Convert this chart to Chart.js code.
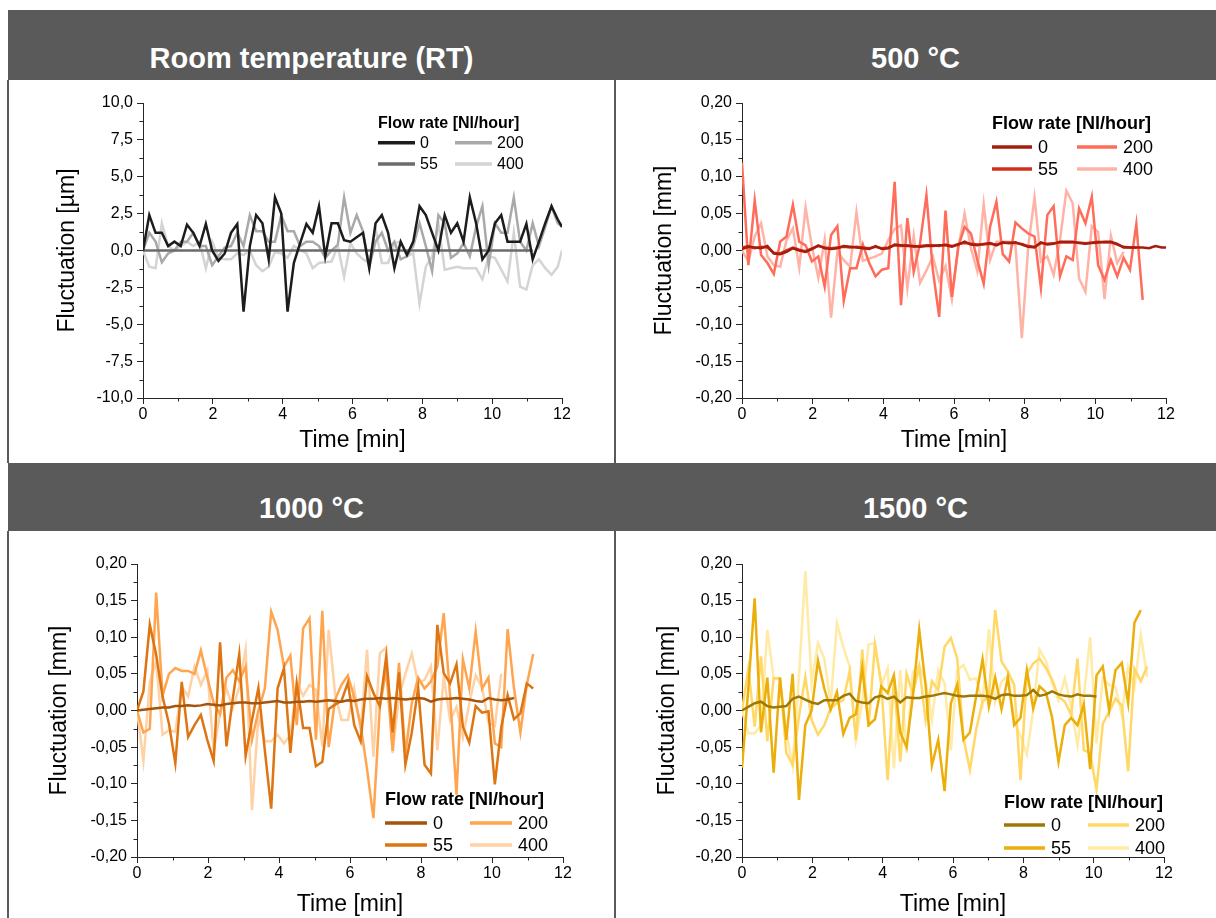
<!DOCTYPE html>
<html><head><meta charset="utf-8">
<script src="https://cdn.jsdelivr.net/npm/chart.js@4.4.1/dist/chart.umd.min.js"></script>
<style>
html,body{margin:0;padding:0;background:#fff;}
body{width:1216px;height:918px;position:relative;overflow:hidden;font-family:"Liberation Sans",Arial,sans-serif;}
.hdr{position:absolute;background:#5a5a5a;}
.ttl{position:absolute;color:#fff;font-weight:bold;font-size:29px;line-height:32px;text-align:center;white-space:nowrap;}
.vline{position:absolute;background:#5a5a5a;width:2px;}
canvas{position:absolute;}
</style></head><body>
<div class="hdr" style="left:8px;top:10px;width:1208px;height:70px"></div>
<div class="hdr" style="left:8px;top:463px;width:1208px;height:68px"></div>
<div class="ttl" style="left:8px;width:607px;top:42px">Room temperature (RT)</div>
<div class="ttl" style="left:615px;width:601px;top:42px">500 °C</div>
<div class="ttl" style="left:8px;width:607px;top:492px">1000 °C</div>
<div class="ttl" style="left:615px;width:601px;top:492px">1500 °C</div>
<div class="vline" style="left:7px;top:80px;height:383px"></div>
<div class="vline" style="left:614px;top:80px;height:383px"></div>
<div class="vline" style="left:7px;top:531px;height:387px"></div>
<div class="vline" style="left:614px;top:531px;height:387px"></div>
<canvas id="cRT" width="604" height="383" style="left:10px;top:80px"></canvas>
<canvas id="c500" width="599" height="383" style="left:617px;top:80px"></canvas>
<canvas id="c1000" width="604" height="387" style="left:10px;top:531px"></canvas>
<canvas id="c1500" width="599" height="387" style="left:617px;top:531px"></canvas>
<script>
// ---------- data ----------
const flowRates = ['0', '55', '200', '400'];
const xTicks = [0, 2, 4, 6, 8, 10, 12];
const time = [0,0.18,0.36,0.54,0.72,0.9,1.08,1.26,1.44,1.62,1.8,1.98,2.16,2.34,2.52,2.7,2.88,3.06,3.24,3.42,3.6,3.78,3.96,4.14,4.32,4.5,4.68,4.86,5.04,5.22,5.4,5.58,5.76,5.94,6.12,6.3,6.48,6.66,6.84,7.02,7.2,7.38,7.56,7.74,7.92,8.1,8.28,8.46,8.64,8.82,9,9.18,9.36,9.54,9.72,9.9,10.08,10.26,10.44,10.62,10.8,10.98,11.16,11.34,11.52,11.7,11.88,12];

// Room temperature [µm]
const rt0 = [0,2.4,1.2,1.2,0.3,0.6,0.3,1.75,1.2,0.3, 1.8,0,-0.7,-0.2,1.2,1.8,-4.15,0.3,2.4,1.85, -0.6,3.6,2.5,-4.15,-0.85,0.5,1.8,1.2,3.0,-0.4, 1.85,1.85,0.7,0.6,0.9,1.2,-1.2,1.85,2.4,1.2, -1.2,0.6,-0.3,0.6,3.0,2.4,1.2,0,2.4,1.2, 1.85,0.6,3.6,1.85,-0.6,0,1.85,2.4,0.6,0.6, 0.6,1.8,-0.6,0.6,1.85,3.0,2.1,1.6];
const rt55 = [0,0,0,0,0,0,0,0,0,0, 0,0,0,0,0,0,0,0,0,0, 0,0,0,0,0,0,0,0,0,0, 0,0,0,0,0,0,0,0,0,0, 0,0,0,0,0,0,0,0,0,0, 0,0,0,0,0,0,0,0,0,0, 0,0,0];
const rt200 = [0,1.2,0.6,-0.8,-0.2,0,0.6,0.6,1.2,0.3, 0.3,-1.0,-0.4,0.2,0.3,1.2,0.3,2.4,1.3,1.3, 0.6,0.6,2.4,1.3,1.3,0.3,0.6,0.6,0.3,-0.5, 0,0.4,3.6,1.2,2.4,1.3,-1.1,0.6,1.2,0, 0.6,-0.6,-0.4,0.3,1.85,0.3,-1.4,2.4,1.85,-0.5, -0.2,0.5,-0.4,1.6,3.0,-1.0,1.85,1.2,1.2,3.6, 0.6,0,1.85,0.3,1.6,3.0,1.85,1.6];
const rt400 = [0,-1.1,-1.2,1.85,0.3,0,0.3,0.6,0.3,0.6, -1.2,0.6,-0.5,-0.6,-0.6,-0.2,-0.3,0,-1.0,-1.4, -1.1,-0.1,-0.2,-0.5,0.3,0.05,-0.2,-1.2,-0.85,-0.8, -0.75,0.3,-1.8,0.5,-0.2,-0.6,-0.85,1.5,-0.85,-0.85, 0.5,0.6,-0.4,-0.2,-3.6,-1.1,-0.4,1.85,-1.3,-1.2, -1.1,-1.2,-1.2,-1.2,-1.95,-0.4,-0.5,-1.3,-2.1,1.2, -2.45,-2.65,-1.0,-0.6,-1.2,-1.65,-1.1,0];

// 500 °C [mm]
const t500_0 = [0.002,0.005,0.004,0.003,0.006,-0.004,-0.005,-0.002,0.003,0, -0.002,0.002,0.007,0.003,0.002,0.003,0.006,0.005,0.004,0.003, 0.002,0.006,0.002,0.003,0.008,0.007,0.006,0.006,0.005,0.006, 0.006,0.007,0.007,0.005,0.008,0.012,0.008,0.007,0.009,0.01, 0.007,0.011,0.01,0.011,0.008,0.005,0.004,0.011,0.008,0.009, 0.012,0.012,0.012,0.01,0.009,0.01,0.011,0.012,0.012,0.009, 0.004,0.004,0.004,0.004,0.003,0.006,0.004,0.004];
const t500_55 = [0.004,0.006,0.003,0.005,0.004,-0.003,-0.004,0.0,0.004,0.001, -0.001,0.003,0.006,0.004,0.003,0.004,0.005,0.004,0.005,0.004, 0.003,0.005,0.003,0.004,0.007,0.006,0.007,0.005,0.006,0.007, 0.007,0.006,0.008,0.006,0.009,0.01,0.009,0.008,0.008,0.009, 0.008,0.01,0.011,0.01,0.009,0.006,0.005,0.01,0.009,0.01, 0.011,0.011,0.011,0.011,0.01,0.011,0.012,0.011,0.011,0.008, 0.005,0.004,0.004];
const t500_200 = [0.119,-0.02,0.068,-0.006,-0.017,-0.032,0.012,0.019,0.062,0.012, 0.007,-0.015,-0.008,-0.049,0.021,0.033,-0.068,-0.024,-0.024,0.008, -0.017,-0.035,-0.026,-0.024,0.093,-0.074,0.044,-0.029,0.01,0.075, -0.026,-0.09,0.054,-0.063,0.005,0.032,0.023,-0.013,-0.045,0.032, 0.066,-0.005,-0.015,0.038,0.03,0.023,0.019,-0.051,0.048,0.06, -0.035,-0.008,-0.013,0.057,0.037,0.073,-0.02,-0.04,-0.013,-0.035, -0.01,-0.026,0.036,-0.067];
const t500_400 = [0,-0.015,0.019,0.037,-0.008,-0.02,-0.022,0.014,0.03,-0.023, 0.058,0.005,-0.037,0.015,-0.091,-0.002,-0.013,-0.022,0.052,-0.014, -0.011,-0.008,-0.004,0.014,0.029,0.034,-0.051,0.02,-0.044,-0.027, -0.008,-0.041,-0.021,-0.066,0.003,0.05,0.003,-0.028,0.063,-0.013, 0.012,0.012,0.012,0.007,-0.119,0.005,0.072,-0.015,-0.008,-0.033, 0.014,0.081,0.064,-0.038,-0.056,0.033,0.025,-0.066,0.02,-0.017, -0.002];

// 1000 °C [mm]
const t1000_0 = [0,0.001,0.002,0.003,0.004,0.004,0.006,0.006,0.007,0.006, 0.007,0.009,0.008,0.007,0.009,0.01,0.011,0.011,0.01,0.01, 0.011,0.012,0.013,0.011,0.011,0.012,0.012,0.013,0.012,0.013, 0.014,0.013,0.012,0.014,0.013,0.015,0.016,0.016,0.017,0.016, 0.017,0.016,0.015,0.016,0.017,0.016,0.012,0.015,0.016,0.016, 0.017,0.016,0.015,0.013,0.012,0.017,0.015,0.014,0.015,0.017];
const t1000_55 = [0,0.026,0.117,0.076,0.019,-0.018,-0.072,0.039,-0.036,-0.02, -0.006,-0.04,-0.069,0.093,-0.049,0.017,0.077,-0.062,-0.013,0.031, -0.054,-0.134,0.03,0.058,-0.058,0.037,-0.024,-0.024,-0.076,-0.07, 0.002,0.008,0.013,0.038,-0.02,-0.042,0.047,0.024,0.006,0.074, -0.03,0.052,-0.074,-0.03,0.031,-0.074,-0.086,0.117,0.051,0.037, 0.063,-0.022,-0.044,0.006,-0.003,-0.001,-0.101,-0.023,0.021,-0.012, -0.004,0.037,0.03];
const t1000_200 = [0,-0.03,-0.025,0.161,0.02,0.05,0.058,0.054,0.054,0.05, 0.082,0.045,0.01,-0.005,0.045,0.055,0.04,0.06,-0.04,0.0, 0.03,0.135,0.11,0.06,0.075,-0.02,0.112,0.126,-0.04,0.136, -0.05,0.015,0.035,0.048,0.018,-0.02,-0.08,-0.147,0.005,0.055, -0.055,0.065,-0.06,0.01,0.045,0.03,0.04,0.06,0.133,0.02, -0.115,0.07,0.03,0.108,0.03,0.045,-0.045,-0.05,0.111,0.03, -0.03,0.035,0.077];
const t1000_400 = [0,-0.069,0.039,0.067,-0.033,-0.027,-0.029,0.033,0.019,0.06, 0.035,0.055,-0.056,-0.004,0.03,0.003,0.032,0.083,-0.136,-0.008, -0.042,-0.042,-0.033,-0.045,-0.033,0.037,0.02,0.035,0.028,-0.049, 0.11,0.023,-0.013,-0.013,0.03,-0.027,0.083,-0.063,0.078,0.086, -0.058,0.019,0.05,0.078,0.037,0.042,0.06,-0.054,0.046,-0.013, 0.005,-0.037,0.01,0.048,0.032,-0.017,-0.021,0.05];

// 1500 °C [mm]
const t1500_0 = [0,0.005,0.01,0.012,0.006,0.004,0.005,0.006,0.016,0.019, 0.015,0.011,0.009,0.014,0.014,0.014,0.02,0.023,0.013,0.011, 0.01,0.018,0.02,0.016,0.019,0.011,0.018,0.017,0.017,0.019, 0.02,0.022,0.024,0.022,0.02,0.019,0.02,0.02,0.02,0.019, 0.016,0.021,0.022,0.02,0.02,0.021,0.028,0.02,0.022,0.026, 0.022,0.02,0.019,0.022,0.02,0.02,0.019];
const t1500_55 = [-0.078,0.03,0.153,-0.03,0.045,-0.085,0.045,-0.04,0.05,-0.122, -0.02,0.0,0.068,0.03,0.001,0.025,-0.032,-0.01,-0.005,0.058, -0.02,-0.012,0.033,0.024,0.048,-0.03,-0.05,0.02,0.11,0.035, -0.075,-0.04,-0.11,0.01,0.035,-0.04,-0.03,0.02,0.07,0.005, 0.045,0.002,0.045,-0.02,-0.01,0.055,0.003,0.033,0.025,-0.01, -0.07,-0.02,-0.01,-0.02,0.008,-0.08,0.048,0.06,0.0,0.055, 0.065,0.01,0.12,0.137];
const t1500_200 = [0.0,0.057,-0.022,0.074,-0.042,0.044,0.044,-0.058,-0.074,-0.008, 0.046,-0.013,-0.033,-0.02,0.003,0.01,0.014,0.053,-0.04,0.083, -0.022,0.09,0.037,-0.095,0.044,-0.07,0.05,0.023,0.06,-0.013, 0.04,0.028,0.087,0.099,0.071,-0.038,-0.081,-0.026,0.012,0.019, 0.137,0.067,0.053,0.035,-0.095,0.05,0.064,0.071,0.058,0.042, 0.019,0.012,-0.006,0.071,-0.054,-0.058,-0.108,-0.018,-0.002,0.016, 0.007,-0.083,0.057,0.04,0.06];
const t1500_400 = [0.0,-0.031,-0.031,-0.02,0.11,0.044,0.042,-0.029,-0.076,0.046, 0.19,0.037,0.092,0.071,0.01,0.119,0.087,0.06,-0.04,0.012, 0.09,0.092,0.035,0.057,-0.079,0.055,-0.058,0.053,0.062,0.04, -0.013,0.055,0.037,-0.054,0.055,0.062,0.042,0.044,0.01,0.111, 0.012,0.039,0.048,-0.013,-0.035,-0.06,0.0,0.083,0.068,0.037, 0.014,0.044,0.005,-0.047,0.019,0.1,-0.045,0.044,0.035,0.032, -0.006,0.06,0.032,0.103,0.046];

// ---------- styling ----------
const AXIS = '#262626';
const FONT = '"Liberation Sans", Arial, sans-serif';
Chart.defaults.font.family = FONT;
Chart.defaults.color = '#000';

const extras = {
  id: 'panelExtras',
  afterDraw(chart, args, opts) {
    const ctx = chart.ctx;
    ctx.save();
    ctx.strokeStyle = AXIS; ctx.lineWidth = 1;
    ['x', 'y'].forEach(id => {
      const s = chart.scales[id];
      const v = s.ticks.map(t => t.value);
      for (let i = 0; i < v.length - 1; i++) {
        const p = Math.round(s.getPixelForValue((v[i] + v[i + 1]) / 2)) + 0.5;
        ctx.beginPath();
        if (id === 'x') { ctx.moveTo(p, s.top); ctx.lineTo(p, s.top + 3.5); }
        else { ctx.moveTo(s.right, p); ctx.lineTo(s.right - 3.5, p); }
        ctx.stroke();
      }
    });
    const L = opts.legend;
    ctx.textBaseline = 'middle'; ctx.textAlign = 'left'; ctx.fillStyle = '#000';
    ctx.font = 'bold ' + L.size + 'px ' + FONT;
    ctx.fillText('Flow rate [Nl/hour]', L.x, L.ty);
    const items = [[0, L.x, L.r1], [1, L.x, L.r2], [2, L.x2, L.r1], [3, L.x2, L.r2]];
    items.forEach(([di, x, y]) => {
      const ds = chart.data.datasets[di];
      ctx.strokeStyle = ds.borderColor; ctx.lineWidth = 3.5; ctx.lineCap = 'butt';
      ctx.beginPath(); ctx.moveTo(x, y); ctx.lineTo(x + L.len, y); ctx.stroke();
      ctx.font = L.size + 'px ' + FONT;
      ctx.fillText(ds.label, x + L.len + L.gap, y + 1);
    });
    ctx.restore();
  }
};

function fmt(dec) {
  return v => { if (Math.abs(v) < 1e-9) v = 0; return v.toFixed(dec).replace('.', ','); };
}

function makeChart(id, c) {
  new Chart(document.getElementById(id), {
    type: 'line',
    data: {
      datasets: c.series.map((vals, i) => ({
        label: flowRates[i],
        data: vals.map((v, j) => ({ x: time[j], y: v })),
        borderColor: c.colors[i], backgroundColor: c.colors[i],
        borderWidth: 2.5, pointRadius: 0, tension: 0, fill: false
      }))
    },
    options: {
      responsive: false, animation: false, devicePixelRatio: 1,
      layout: { padding: { left: 0, top: c.padTop, right: c.padRight, bottom: 0 } },
      plugins: { legend: { display: false }, tooltip: { enabled: false }, panelExtras: { legend: c.legend } },
      scales: {
        x: {
          type: 'linear', min: xTicks[0], max: xTicks[xTicks.length - 1],
          afterFit(s) { s.height = c.xh; },
          afterBuildTicks(s) { s.ticks = xTicks.map(v => ({ value: v })); },
          ticks: { font: { size: 16 }, color: '#000', padding: 1, maxRotation: 0, autoSkip: false, callback: v => String(v) },
          grid: { drawOnChartArea: false, drawTicks: true, tickLength: 6, tickColor: AXIS },
          border: { display: true, color: AXIS, width: 1 },
          title: { display: true, text: 'Time [min]', font: { size: 23 }, color: '#000', padding: { top: 0, bottom: c.xtPad } }
        },
        y: {
          type: 'linear', min: c.yMin, max: c.yMax,
          afterFit(s) { s.width = c.yw; },
          afterBuildTicks(s) { s.ticks = c.yTicks.map(v => ({ value: v })); },
          ticks: { font: { size: 16 }, color: '#000', padding: 4, callback: fmt(c.dec) },
          grid: { drawOnChartArea: false, drawTicks: true, tickLength: 6, tickColor: AXIS },
          border: { display: true, color: AXIS, width: 1 },
          title: { display: true, text: c.yTitle, font: { size: 23 }, color: '#000', padding: { top: c.ytPad, bottom: 0 } }
        }
      }
    },
    plugins: [extras]
  });
}

const yTicksUm = [-10, -7.5, -5, -2.5, 0, 2.5, 5, 7.5, 10];
const yTicksMm = [-0.2, -0.15, -0.1, -0.05, 0, 0.05, 0.1, 0.15, 0.2];

makeChart('cRT', {
  series: [rt0, rt55, rt200, rt400],
  colors: ['#1c1c1c', '#6b6b6b', '#a9a9a9', '#d4d4d4'],
  yMin: -10, yMax: 10, yTicks: yTicksUm, dec: 1, yTitle: 'Fluctuation [µm]',
  padTop: 23, padRight: 52, xh: 65, yw: 133, xtPad: 9, ytPad: 44,
  legend: { size: 16, x: 368, ty: 43.5, r1: 62.7, r2: 84, x2: 445, len: 37, gap: 5 }
});
makeChart('c500', {
  series: [t500_0, t500_55, t500_200, t500_400],
  colors: ['#a51d0c', '#d3301b', '#ff6c5a', '#ffb3a7'],
  yMin: -0.2, yMax: 0.2, yTicks: yTicksMm, dec: 2, yTitle: 'Fluctuation [mm]',
  padTop: 23, padRight: 50, xh: 65, yw: 125, xtPad: 9, ytPad: 34,
  legend: { size: 18, x: 375, ty: 44.5, r1: 67, r2: 89, x2: 460, len: 40, gap: 6 }
});
makeChart('c1000', {
  series: [t1000_0, t1000_55, t1000_200, t1000_400],
  colors: ['#a3550d', '#de7513', '#ffa550', '#ffd2a5'],
  yMin: -0.2, yMax: 0.2, yTicks: yTicksMm, dec: 2, yTitle: 'Fluctuation [mm]',
  padTop: 33, padRight: 51, xh: 61, yw: 127, xtPad: 0, ytPad: 36,
  legend: { size: 18, x: 375, ty: 269, r1: 292, r2: 314, x2: 460, len: 42, gap: 6 }
});
makeChart('c1500', {
  series: [t1500_0, t1500_55, t1500_200, t1500_400],
  colors: ['#9e7705', '#ebae0a', '#ffd866', '#ffeaa6'],
  yMin: -0.2, yMax: 0.2, yTicks: yTicksMm, dec: 2, yTitle: 'Fluctuation [mm]',
  padTop: 33, padRight: 52, xh: 61, yw: 125, xtPad: 0, ytPad: 37,
  legend: { size: 18, x: 387, ty: 272, r1: 294, r2: 317, x2: 471, len: 41, gap: 6 }
});
</script>
</body></html>
